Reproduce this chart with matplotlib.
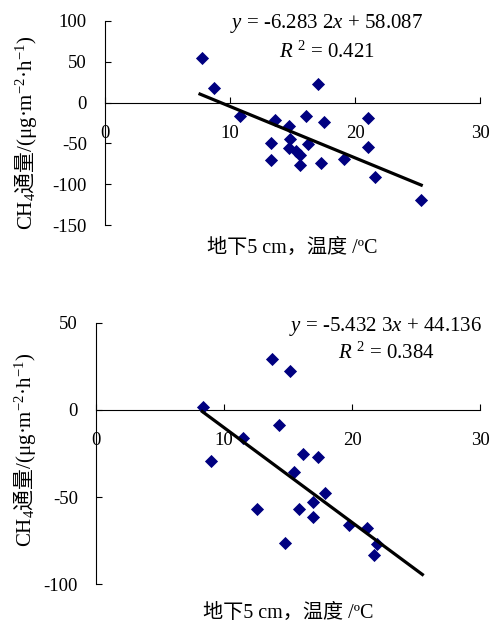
import matplotlib
matplotlib.use("Agg")
import matplotlib.pyplot as plt
import numpy as np

plt.rcParams['font.family'] = ['Liberation Serif', 'Noto Sans CJK SC']
plt.rcParams['mathtext.fontset'] = 'custom'
plt.rcParams['mathtext.rm'] = 'Liberation Serif'
plt.rcParams['mathtext.it'] = 'Liberation Serif:italic'
plt.rcParams['mathtext.sf'] = 'Noto Sans CJK SC'
plt.rcParams['axes.unicode_minus'] = False

### DATA ###
# top panel
temp_a = [7.73, 8.75, 17.07, 10.8, 13.6, 14.75, 16.08, 17.52, 21.07, 13.25,
          14.8, 14.75, 15.25, 15.6, 16.27, 13.25, 15.6, 17.25, 19.15, 21.07,
          21.6, 25.25]
flux_a = [54, 17.5, 22.4, -17, -21, -28.5, -16.3, -24, -18.3, -49,
          -45, -56, -58.7, -64, -50.5, -70, -76.2, -73.3, -69.3, -53.8,
          -90.5, -119]
fit_a = (-6.2832, 58.087)
fit_x_a = [7.6, 25.3]
eq_a = "$y$ = -6.283 2$x$ + 58.087"
r2_a = "$R$ $^{2}$ = 0.421"

# bottom panel
temp_b = [8.39, 8.98, 13.72, 15.16, 14.32, 11.51, 16.2, 17.37, 15.47, 17.89,
          16.98, 15.89, 12.6, 16.98, 14.79, 19.77, 21.15, 21.98, 21.72]
flux_b = [1.9, -29.2, 29.2, 22.5, -8.6, -15.9, -25.4, -26.8, -35.9, -47.4,
          -53.1, -56.6, -56.6, -61.2, -76.1, -66.1, -67.8, -77.0, -83.1]
fit_b = (-5.4323, 44.136)
fit_x_b = [8.3, 25.5]
eq_b = "$y$ = -5.432 3$x$ + 44.136"
r2_b = "$R$ $^{2}$ = 0.384"

x_label = "地下5 cm，温度 /ºC"
y_label = "CH$_4$$\\mathsf{通量}$/(μg·m$^{-2}$·h$^{-1}$)"

FS_TICK = 13.5
FS_TXT = 14.5
FS_EQ = 15
FS_YL = 15
W, H = 498, 624


def panel(ax, tx, fy, fit, fit_x, eq, r2, ylim, ystep, eq_xy, r2_xy):
    ax.scatter(tx, fy, marker='D', s=6.7 ** 2, c='#000080', zorder=3,
               linewidths=0)
    xs = np.array(fit_x)
    ax.plot(xs, fit[0] * xs + fit[1], c='k', lw=2.3, zorder=4)

    ax.set_xlim(0, 30)
    ax.set_ylim(*ylim)
    ax.set_xticks(np.arange(0, 31, 10))
    ax.set_yticks(np.arange(ylim[0], ylim[1] + 1, ystep))
    ax.spines['top'].set_visible(False)
    ax.spines['right'].set_visible(False)
    ax.spines['bottom'].set_position(('data', 0))
    for s in ('left', 'bottom'):
        ax.spines[s].set_linewidth(0.8)
    ax.tick_params(axis='x', direction='in', length=4, width=0.8, pad=16,
                   labelsize=FS_TICK)
    ax.tick_params(axis='y', direction='in', length=4, width=0.8, pad=13,
                   labelsize=FS_TICK)

    fig = ax.figure
    fig.text(eq_xy[0] / W, 1 - eq_xy[1] / H, eq, ha='center', va='center',
             fontsize=FS_EQ)
    fig.text(r2_xy[0] / W, 1 - r2_xy[1] / H, r2, ha='center', va='center',
             fontsize=FS_EQ)


fig = plt.figure(figsize=(W / 100, H / 100), dpi=100)

ax1 = fig.add_axes([105 / W, 1 - 225.3 / H, 375 / W, 204.6 / H])
panel(ax1, temp_a, flux_a, fit_a, fit_x_a, eq_a, r2_a, (-150, 100), 50,
      (326.7, 23.3), (326.7, 51.7))
fig.text(292 / W, 1 - 248 / H, x_label, ha='center', va='center',
         fontsize=FS_TXT)
fig.text(26 / W, 1 - 133 / H, y_label, ha='center', va='center',
         rotation=90, fontsize=FS_YL)

ax2 = fig.add_axes([96 / W, 1 - 584.3 / H, 384 / W, 261.7 / H])
panel(ax2, temp_b, flux_b, fit_b, fit_x_b, eq_b, r2_b, (-100, 50), 50,
      (385, 326.7), (386, 353))
fig.text(288 / W, 1 - 613 / H, x_label, ha='center', va='center',
         fontsize=FS_TXT)
fig.text(25 / W, 1 - 450 / H, y_label, ha='center', va='center',
         rotation=90, fontsize=FS_YL)

fig.savefig("out.png", dpi=100)
